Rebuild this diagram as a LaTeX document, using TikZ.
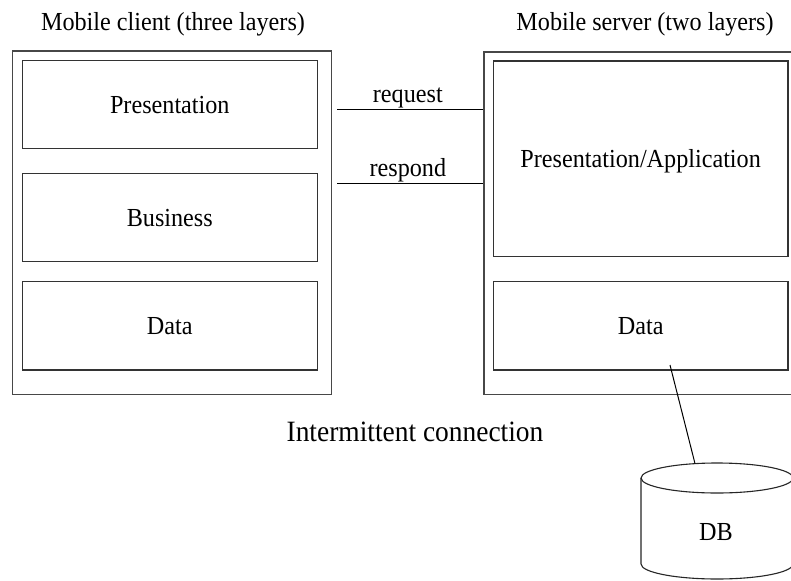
\documentclass[tikz,border=0pt]{standalone}
\usepackage{fontspec}
\setmainfont{Liberation Serif}[FakeStretch=0.93]
\begin{document}
\begin{tikzpicture}[x=1pt,y=-1pt,
  every node/.style={font=\fontsize{26}{30}\selectfont},
  outer/.style={draw=black!72,line width=1.3pt,rectangle,inner sep=0pt},
  layer/.style={draw=black!80,line width=1.2pt,rectangle,inner sep=0pt,
    text height=17pt,text depth=0pt},
  link/.style={draw=black,line width=1pt},
  cyl/.style={draw=black!85,line width=1.1pt}]
\useasboundingbox (0,0) rectangle (791,580);
\clip (0,0) rectangle (791,580);

% client side: three stacked layers
\node[outer,minimum width=319.4pt,minimum height=343.3pt] (lout) at (172,222.65) {};
\node[layer,minimum width=295pt,minimum height=88pt] (lpres) at (169.8,104.7) {Presentation};
\node[layer,minimum width=295pt,minimum height=88.4pt] (lbus) at (169.8,217.5) {Business};
\node[layer,minimum width=295pt,minimum height=88.3pt] (ldata) at (169.8,325.85) {Data};

% server side: two layers
\node[outer,minimum width=316pt,minimum height=342.3pt] (rout) at (642,223.15) {};
\node[layer,minimum width=294.7pt,minimum height=195.7pt] (rpres) at (640.65,158.85) {Presentation/Application};
\node[layer,minimum width=294.7pt,minimum height=88.3pt] (rdata) at (640.65,325.85) {Data};

% titles
\node[anchor=base] (tclient) at (173,30.5) {Mobile client (three layers)};
\node[anchor=base] (tserver) at (645,30.5) {Mobile server (two layers)};

% request / respond links
\draw[link,shorten <=5pt] (lout.east |- 0,110) -- (rout.west |- 0,110)
  node[midway,anchor=base,yshift=7pt] (lreq) {request};
\draw[link,shorten <=5pt] (lout.east |- 0,183.3) -- (rout.west |- 0,183.3)
  node[midway,anchor=base,yshift=6.6pt] (lresp) {respond};

% caption
\node[anchor=base,font=\fontsize{29.5}{34}\selectfont] (conn) at (415,441) {Intermittent connection};

% database cylinder
\draw[cyl,fill=white] (641,478) -- (641,564)
  arc[start angle=180,end angle=360,x radius=76pt,y radius=15pt] -- (793,478);
\draw[cyl] (717,478) ellipse [x radius=76pt,y radius=15pt];
\node[anchor=base] (db) at (716,540.7) {DB};

% link from server data layer to the database
\coordinate (tap) at (670,365);
\coordinate (dbtop) at (695,463.6);
\draw[link] (tap) -- (dbtop);
\end{tikzpicture}
\end{document}
